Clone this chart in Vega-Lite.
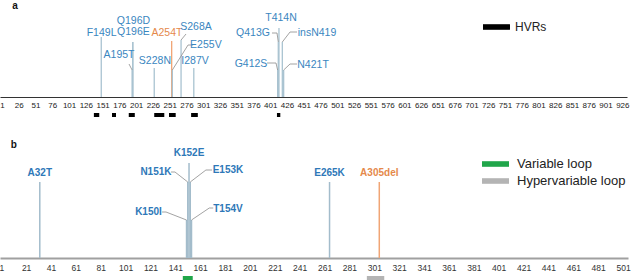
{
  "$schema": "https://vega.github.io/schema/vega-lite/v6.json",
  "padding": {"left": -2, "top": 0, "right": 0, "bottom": 0},
  "bounds": "flush",
  "spacing": 43,
  "config": {
    "view": {"stroke": null},
    "font": "Liberation Sans",
    "axisX": {"title": null, "grid": false, "ticks": false, "domain": true, "labelFlush": false, "labelOverlap": false, "labelAngle": 0, "labelBound": false}
  },
  "resolve": {"scale": {"color": "independent"}, "legend": {"color": "independent"}},
  "datasets": {
    "hvrA": [
      {"start": 138, "end": 146, "region": "HVRs"},
      {"start": 165, "end": 171, "region": "HVRs"},
      {"start": 190, "end": 199, "region": "HVRs"},
      {"start": 228, "end": 243, "region": "HVRs"},
      {"start": 250, "end": 260, "region": "HVRs"},
      {"start": 283, "end": 293, "region": "HVRs"},
      {"start": 411, "end": 416, "region": "HVRs"}
    ],
    "mutA": [
      {"mutation": "F149L", "pos": 149, "top": 60, "lx": 149.5, "ly": 64, "highlight": false},
      {"mutation": "A195T", "pos": 195, "top": 27, "lx": 175.5, "ly": 42, "highlight": false},
      {"mutation": "Q196D", "pos": 196, "top": 55, "lx": 197, "ly": 76, "highlight": false},
      {"mutation": "Q196E", "pos": 196, "top": 55, "lx": 197, "ly": 65, "highlight": false},
      {"mutation": "S228N", "pos": 228, "top": 29, "lx": 229, "ly": 36, "highlight": false},
      {"mutation": "A254T", "pos": 254, "top": 56, "lx": 247, "ly": 64, "highlight": true},
      {"mutation": "E255V", "pos": 255, "top": 27, "lx": 305, "ly": 52, "highlight": false},
      {"mutation": "S268A", "pos": 268, "top": 57, "lx": 290.3, "ly": 70, "highlight": false},
      {"mutation": "I287V", "pos": 287, "top": 29, "lx": 288.8, "ly": 36, "highlight": false},
      {"mutation": "G412S", "pos": 412, "top": 27, "lx": 372.3, "ly": 33, "highlight": false},
      {"mutation": "Q413G", "pos": 413, "top": 55, "lx": 375.3, "ly": 64, "highlight": false},
      {"mutation": "T414N", "pos": 414, "top": 69, "lx": 417, "ly": 79, "highlight": false},
      {"mutation": "insN419", "pos": 419, "top": 55, "lx": 470.7, "ly": 64, "highlight": false},
      {"mutation": "N421T", "pos": 421, "top": 27, "lx": 464.8, "ly": 32, "highlight": false}
    ],
    "leadA": [
      {"mutation": "A195T", "x": 190.4, "y": 33, "x2": 195, "y2": 27},
      {"mutation": "E255V", "x": 278.4, "y": 52, "x2": 255, "y2": 27},
      {"mutation": "E255V", "x": 278.4, "y": 52, "x2": 286, "y2": 52},
      {"mutation": "S268A", "x": 268, "y": 57, "x2": 275.4, "y2": 63},
      {"mutation": "G412S", "x": 396.2, "y": 34, "x2": 409.6, "y2": 34},
      {"mutation": "G412S", "x": 409.6, "y": 34, "x2": 412, "y2": 27},
      {"mutation": "Q413G", "x": 403.6, "y": 64, "x2": 411.1, "y2": 64},
      {"mutation": "Q413G", "x": 411.1, "y": 64, "x2": 413, "y2": 55},
      {"mutation": "insN419", "x": 419, "y": 55, "x2": 430.5, "y2": 65},
      {"mutation": "insN419", "x": 430.5, "y": 65, "x2": 440.9, "y2": 65},
      {"mutation": "N421T", "x": 421, "y": 27, "x2": 430.5, "y2": 33},
      {"mutation": "N421T", "x": 430.5, "y": 33, "x2": 440.9, "y2": 33}
    ],
    "loopB": [
      {"start": 147, "end": 155, "region": "Variable loop"},
      {"start": 295, "end": 309, "region": "Hypervariable loop"}
    ],
    "mutB": [
      {"mutation": "A32T", "pos": 32, "top": 76, "lx": 32, "ly": 85, "highlight": false},
      {"mutation": "K150I", "pos": 150, "top": 38, "lx": 119.4, "ly": 46, "highlight": false},
      {"mutation": "N151K", "pos": 151, "top": 76, "lx": 125.4, "ly": 86, "highlight": false},
      {"mutation": "K152E", "pos": 152, "top": 95, "lx": 152, "ly": 105, "highlight": false},
      {"mutation": "E153K", "pos": 153, "top": 76, "lx": 183.3, "ly": 88, "highlight": false},
      {"mutation": "T154V", "pos": 154, "top": 38, "lx": 183.3, "ly": 49, "highlight": false},
      {"mutation": "E265K", "pos": 265, "top": 76, "lx": 265, "ly": 85, "highlight": false},
      {"mutation": "A305del", "pos": 305, "top": 76, "lx": 305, "ly": 85, "highlight": true}
    ],
    "leadB": [
      {"mutation": "N151K", "x": 137.5, "y": 86, "x2": 140.7, "y2": 86},
      {"mutation": "N151K", "x": 140.7, "y": 86, "x2": 151, "y2": 76},
      {"mutation": "E153K", "x": 165.6, "y": 88, "x2": 170.5, "y2": 88},
      {"mutation": "E153K", "x": 165.6, "y": 88, "x2": 153, "y2": 76},
      {"mutation": "K150I", "x": 130.3, "y": 46, "x2": 133.5, "y2": 46},
      {"mutation": "K150I", "x": 133.5, "y": 46, "x2": 150, "y2": 38},
      {"mutation": "T154V", "x": 168.3, "y": 50, "x2": 171.5, "y2": 50},
      {"mutation": "T154V", "x": 168.3, "y": 50, "x2": 154, "y2": 38}
    ]
  },
  "vconcat": [
    {
      "width": 627,
      "height": 97,
      "layer": [
        {
          "data": {"name": "hvrA"},
          "mark": {"type": "rect"},
          "encoding": {
            "x": {"field": "start", "type": "quantitative", "title": null, "scale": {"domain": [-2, 933], "nice": false, "zero": false},
              "axis": {"values": [1,26,51,76,101,126,151,176,201,226,251,276,301,326,351,376,401,426,451,476,501,526,551,576,601,626,651,676,701,726,751,776,801,826,851,876,901,926],
                "labelOverlap": false, "domainColor": "#333333", "domainWidth": 1, "labelFontSize": 8, "labelColor": "#222222", "labelPadding": 4}},
            "x2": {"field": "end"},
            "y": {"datum": -16, "type": "quantitative", "scale": {"domain": [0, 97], "nice": false}, "axis": null},
            "y2": {"datum": -20},
            "color": {"field": "region", "type": "nominal", "scale": {"domain": ["HVRs"], "range": ["#000000"]},
              "legend": {"orient": "none", "legendX": 486.5, "legendY": 17, "title": null, "padding": 0,
                "symbolType": "M-1.35,-0.28H1.35V0.28H-1.35Z", "symbolSize": 400, "symbolStrokeWidth": 0,
                "labelFontSize": 12, "labelColor": "#222222", "labelOffset": 8.5}}
          }
        },
        {
          "data": {"name": "mutA"},
          "mark": {"type": "rule", "strokeWidth": 1.3},
          "encoding": {
            "x": {"field": "pos", "type": "quantitative", "title": null, "scale": {"domain": [-2, 933], "nice": false, "zero": false},
              "axis": {"values": [1,26,51,76,101,126,151,176,201,226,251,276,301,326,351,376,401,426,451,476,501,526,551,576,601,626,651,676,701,726,751,776,801,826,851,876,901,926],
                "labelOverlap": false, "domainColor": "#333333", "domainWidth": 1, "labelFontSize": 8, "labelColor": "#222222", "labelPadding": 4}},
            "y": {"field": "top", "type": "quantitative", "scale": {"domain": [0, 97], "nice": false}, "axis": null},
            "y2": {"datum": 0},
            "color": {"condition": {"test": "datum.highlight", "value": "#f0a575"}, "value": "#a9c3d1"}
          }
        },
        {
          "data": {"name": "leadA"},
          "mark": {"type": "rule", "strokeWidth": 0.8, "color": "#8c8c8c"},
          "encoding": {
            "x": {"field": "x", "type": "quantitative", "title": null, "scale": {"domain": [-2, 933], "nice": false, "zero": false},
              "axis": {"values": [1,26,51,76,101,126,151,176,201,226,251,276,301,326,351,376,401,426,451,476,501,526,551,576,601,626,651,676,701,726,751,776,801,826,851,876,901,926],
                "labelOverlap": false, "domainColor": "#333333", "domainWidth": 1, "labelFontSize": 8, "labelColor": "#222222", "labelPadding": 4}},
            "x2": {"field": "x2"},
            "y": {"field": "y", "type": "quantitative", "scale": {"domain": [0, 97], "nice": false}, "axis": null},
            "y2": {"field": "y2"}
          }
        },
        {
          "data": {"name": "mutA"},
          "mark": {"type": "text", "align": "center", "baseline": "middle", "fontSize": 10.5},
          "encoding": {
            "x": {"field": "lx", "type": "quantitative", "title": null, "scale": {"domain": [-2, 933], "nice": false, "zero": false},
              "axis": {"values": [1,26,51,76,101,126,151,176,201,226,251,276,301,326,351,376,401,426,451,476,501,526,551,576,601,626,651,676,701,726,751,776,801,826,851,876,901,926],
                "labelOverlap": false, "domainColor": "#333333", "domainWidth": 1, "labelFontSize": 8, "labelColor": "#222222", "labelPadding": 4}},
            "y": {"field": "ly", "type": "quantitative", "scale": {"domain": [0, 97], "nice": false}, "axis": null},
            "text": {"field": "mutation"},
            "color": {"condition": {"test": "datum.highlight", "value": "#e5894b"}, "value": "#3a86c0"}
          }
        },
        {
          "data": {"values": [{"panel": "a"}]},
          "mark": {"type": "text", "align": "center", "baseline": "middle", "fontSize": 10, "fontWeight": "bold", "color": "#111111"},
          "encoding": {
            "x": {"datum": 20.4, "type": "quantitative", "title": null, "scale": {"domain": [-2, 933], "nice": false, "zero": false},
              "axis": {"values": [1,26,51,76,101,126,151,176,201,226,251,276,301,326,351,376,401,426,451,476,501,526,551,576,601,626,651,676,701,726,751,776,801,826,851,876,901,926],
                "labelOverlap": false, "domainColor": "#333333", "domainWidth": 1, "labelFontSize": 8, "labelColor": "#222222", "labelPadding": 4}},
            "y": {"datum": 91, "type": "quantitative", "scale": {"domain": [0, 97], "nice": false}, "axis": null},
            "text": {"field": "panel"}
          }
        }
      ]
    },
    {
      "width": 628,
      "height": 118,
      "layer": [
        {
          "data": {"name": "loopB"},
          "mark": {"type": "rect"},
          "encoding": {
            "x": {"field": "start", "type": "quantitative", "title": null, "scale": {"domain": [0, 505], "nice": false, "zero": false},
              "axis": {"values": [1,21,41,61,81,101,121,141,161,181,201,221,241,261,281,301,321,341,361,381,401,421,441,461,481,501],
                "labelOverlap": false, "domainColor": "#a0a0a0", "domainWidth": 2, "labelFontSize": 8.5, "labelColor": "#333333", "labelPadding": 5}},
            "x2": {"field": "end"},
            "y": {"datum": -18, "type": "quantitative", "scale": {"domain": [0, 118], "nice": false}, "axis": null},
            "y2": {"datum": -27},
            "color": {"field": "region", "type": "nominal", "scale": {"domain": ["Variable loop", "Hypervariable loop"], "range": ["#20a64a", "#b4b4b4"]},
              "legend": {"orient": "none", "legendX": 485.5, "legendY": 14, "title": null, "padding": 0, "rowPadding": 0,
                "symbolType": "M-1.35,-0.28H1.35V0.28H-1.35Z", "symbolSize": 400, "symbolStrokeWidth": 0,
                "labelFontSize": 13, "labelColor": "#222222", "labelOffset": 11.5}}
          }
        },
        {
          "data": {"name": "mutB"},
          "mark": {"type": "rule", "strokeWidth": 1.5},
          "encoding": {
            "x": {"field": "pos", "type": "quantitative", "title": null, "scale": {"domain": [0, 505], "nice": false, "zero": false},
              "axis": {"values": [1,21,41,61,81,101,121,141,161,181,201,221,241,261,281,301,321,341,361,381,401,421,441,461,481,501],
                "labelOverlap": false, "domainColor": "#a0a0a0", "domainWidth": 2, "labelFontSize": 8.5, "labelColor": "#333333", "labelPadding": 5}},
            "y": {"field": "top", "type": "quantitative", "scale": {"domain": [0, 118], "nice": false}, "axis": null},
            "y2": {"datum": 0},
            "color": {"condition": {"test": "datum.highlight", "value": "#f0a575"}, "value": "#a3bccb"}
          }
        },
        {
          "data": {"name": "leadB"},
          "mark": {"type": "rule", "strokeWidth": 0.8, "color": "#8c8c8c"},
          "encoding": {
            "x": {"field": "x", "type": "quantitative", "title": null, "scale": {"domain": [0, 505], "nice": false, "zero": false},
              "axis": {"values": [1,21,41,61,81,101,121,141,161,181,201,221,241,261,281,301,321,341,361,381,401,421,441,461,481,501],
                "labelOverlap": false, "domainColor": "#a0a0a0", "domainWidth": 2, "labelFontSize": 8.5, "labelColor": "#333333", "labelPadding": 5}},
            "x2": {"field": "x2"},
            "y": {"field": "y", "type": "quantitative", "scale": {"domain": [0, 118], "nice": false}, "axis": null},
            "y2": {"field": "y2"}
          }
        },
        {
          "data": {"name": "mutB"},
          "mark": {"type": "text", "align": "center", "baseline": "middle", "fontSize": 10, "fontWeight": "bold"},
          "encoding": {
            "x": {"field": "lx", "type": "quantitative", "title": null, "scale": {"domain": [0, 505], "nice": false, "zero": false},
              "axis": {"values": [1,21,41,61,81,101,121,141,161,181,201,221,241,261,281,301,321,341,361,381,401,421,441,461,481,501],
                "labelOverlap": false, "domainColor": "#a0a0a0", "domainWidth": 2, "labelFontSize": 8.5, "labelColor": "#333333", "labelPadding": 5}},
            "y": {"field": "ly", "type": "quantitative", "scale": {"domain": [0, 118], "nice": false}, "axis": null},
            "text": {"field": "mutation"},
            "color": {"condition": {"test": "datum.highlight", "value": "#e5894b"}, "value": "#2e78b8"}
          }
        },
        {
          "data": {"values": [{"panel": "b"}]},
          "mark": {"type": "text", "align": "center", "baseline": "middle", "fontSize": 10, "fontWeight": "bold", "color": "#111111"},
          "encoding": {
            "x": {"datum": 11.1, "type": "quantitative", "title": null, "scale": {"domain": [0, 505], "nice": false, "zero": false},
              "axis": {"values": [1,21,41,61,81,101,121,141,161,181,201,221,241,261,281,301,321,341,361,381,401,421,441,461,481,501],
                "labelOverlap": false, "domainColor": "#a0a0a0", "domainWidth": 2, "labelFontSize": 8.5, "labelColor": "#333333", "labelPadding": 5}},
            "y": {"datum": 113, "type": "quantitative", "scale": {"domain": [0, 118], "nice": false}, "axis": null},
            "text": {"field": "panel"}
          }
        }
      ]
    }
  ]
}
